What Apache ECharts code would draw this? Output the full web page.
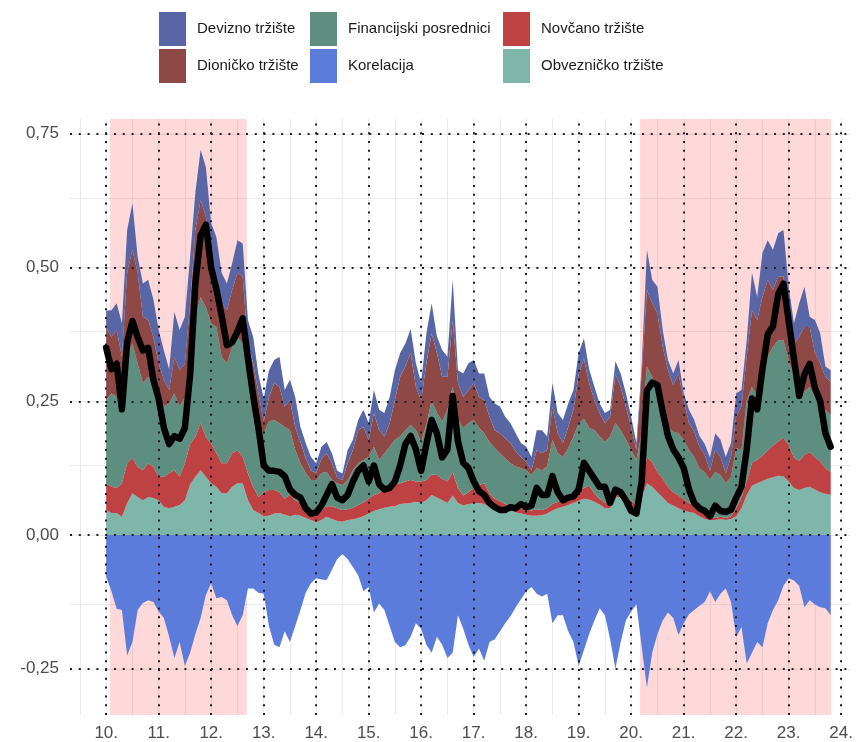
<!DOCTYPE html>
<html lang="hr">
<head>
<meta charset="UTF-8">
<title>Indeks sistemskog stresa</title>
<script src="https://cdn.jsdelivr.net/npm/echarts@6/dist/echarts.min.js"></script>
<style>
    html, body { margin: 0; padding: 0; background: #fff; }
    #main { width: 856px; height: 742px; }
</style>
</head>
<body>
<div id="main"></div>
<script>
// vremenska os: godine (10. = 2010.), korak 0,1 godine
var start = 10, step = 0.1, n = 139;
var t = [];
for (var i = 0; i < n; i++) t.push(Math.round((start + i * step) * 10) / 10);

// doprinosi (debljina sloja), odozdo prema gore
var obveznicko = [
    .047,.041,.041,.034,.060,.078,.071,.065,.071,.069,
    .065,.053,.050,.053,.056,.065,.095,.109,.121,.109,
    .097,.090,.078,.078,.090,.097,.097,.065,.047,.041,
    .035,.036,.040,.041,.038,.035,.038,.036,.032,.028,
    .024,.028,.034,.030,.026,.025,.028,.029,.032,.035,
    .040,.045,.048,.051,.053,.054,.058,.059,.060,.062,
    .060,.065,.075,.070,.065,.060,.074,.060,.055,.058,
    .059,.060,.058,.053,.051,.050,.049,.047,.042,.040,
    .038,.036,.036,.037,.040,.046,.050,.053,.056,.060,
    .064,.068,.066,.062,.057,.050,.050,.072,.070,.062,
    .052,.045,.070,.097,.090,.080,.070,.060,.055,.050,
    .046,.043,.041,.035,.030,.028,.028,.030,.028,.030,
    .035,.050,.075,.092,.097,.101,.105,.108,.111,.110,
    .100,.088,.084,.088,.090,.085,.080,.077,.075
];
var novcano = [
    .050,.049,.047,.063,.074,.066,.056,.056,.063,.058,
    .044,.056,.065,.068,.053,.069,.075,.074,.088,.074,
    .074,.063,.056,.056,.063,.062,.049,.050,.043,.030,
    .045,.048,.044,.039,.030,.041,.027,.023,.018,.017,
    .017,.019,.020,.024,.024,.022,.020,.022,.024,.026,
    .028,.030,.030,.035,.037,.041,.039,.041,.043,.038,
    .040,.038,.038,.042,.040,.040,.044,.028,.019,.022,
    .029,.033,.039,.025,.017,.013,.009,.007,.010,.010,
    .010,.010,.012,.010,.010,.012,.012,.013,.014,.015,
    .018,.020,.026,.016,.011,.010,.010,.014,.014,.013,
    .012,.010,.015,.049,.046,.038,.035,.030,.025,.024,
    .021,.017,.014,.012,.010,.006,.004,.004,.004,.005,
    .015,.020,.025,.043,.043,.047,.053,.059,.064,.072,
    .068,.057,.054,.062,.065,.060,.058,.048,.043
];
var financijski = [
    .155,.175,.170,.161,.199,.214,.193,.163,.162,.150,
    .156,.131,.131,.144,.131,.124,.188,.225,.236,.243,
    .225,.236,.199,.187,.198,.211,.212,.181,.156,.138,
    .110,.128,.131,.129,.134,.120,.094,.075,.066,.058,
    .062,.069,.064,.049,.047,.046,.055,.070,.078,.079,
    .078,.090,.062,.067,.075,.083,.087,.096,.103,.096,
    .074,.103,.139,.116,.107,.134,.159,.127,.126,.129,
    .127,.107,.093,.096,.094,.090,.085,.080,.076,.075,
    .073,.066,.077,.074,.078,.120,.091,.080,.092,.109,
    .126,.130,.108,.118,.116,.114,.124,.123,.112,.103,
    .095,.085,.105,.169,.160,.147,.129,.112,.113,.116,
    .111,.099,.091,.078,.077,.070,.086,.078,.065,.074,
    .112,.089,.152,.142,.118,.154,.175,.185,.189,.182,
    .159,.151,.133,.118,.122,.113,.108,.109,.106
];
var dionicko = [
    .137,.105,.125,.075,.157,.175,.170,.124,.106,.093,
    .056,.050,.025,.068,.068,.062,.075,.162,.181,.169,
    .124,.088,.100,.099,.107,.120,.125,.062,.074,.056,
    .022,.046,.069,.068,.038,.056,.043,.040,.027,.018,
    .013,.027,.035,.031,.010,.010,.031,.038,.062,.062,
    .032,.063,.056,.031,.044,.074,.112,.119,.134,.081,
    .078,.115,.125,.112,.084,.062,.125,.069,.058,.062,
    .069,.058,.062,.047,.034,.037,.038,.038,.028,.021,
    .016,.009,.034,.032,.031,.062,.037,.026,.040,.050,
    .092,.112,.083,.056,.044,.035,.037,.091,.081,.062,
    .043,.019,.112,.143,.137,.149,.118,.106,.087,.112,
    .074,.050,.047,.040,.033,.016,.041,.034,.018,.037,
    .059,.081,.081,.143,.144,.143,.144,.106,.119,.119,
    .075,.062,.100,.121,.112,.082,.075,.062,.063
];
var devizno = [
    .030,.050,.050,.063,.080,.087,.030,.062,.075,.070,
    .062,.055,.039,.084,.075,.088,.087,.070,.094,.093,
    .063,.080,.057,.050,.050,.061,.062,.044,.050,.035,
    .043,.050,.043,.056,.031,.038,.056,.028,.029,.025,
    .018,.022,.021,.019,.013,.012,.025,.019,.019,.032,
    .031,.043,.038,.044,.049,.056,.044,.043,.045,.044,
    .032,.056,.056,.031,.050,.037,.075,.024,.044,.050,
    .043,.044,.050,.037,.050,.050,.040,.037,.034,.026,
    .028,.025,.037,.043,.025,.044,.038,.043,.044,.037,
    .040,.038,.027,.025,.018,.019,.013,.025,.025,.025,
    .019,.013,.013,.075,.044,.050,.031,.019,.022,.025,
    .013,.025,.022,.020,.020,.025,.031,.032,.031,.026,
    .044,.031,.031,.070,.043,.082,.074,.075,.081,.087,
    .062,.038,.062,.075,.019,.062,.056,.019,.021
];
var korelacija = [
    -.078,-.105,-.138,-.140,-.225,-.200,-.140,-.127,-.122,-.125,
    -.143,-.155,-.190,-.230,-.200,-.245,-.220,-.185,-.155,-.112,
    -.090,-.118,-.116,-.122,-.150,-.170,-.150,-.100,-.100,-.108,
    -.110,-.170,-.205,-.210,-.180,-.200,-.170,-.140,-.108,-.090,
    -.081,-.083,-.084,-.065,-.045,-.036,-.045,-.060,-.075,-.105,
    -.097,-.145,-.128,-.140,-.170,-.200,-.210,-.206,-.190,-.165,
    -.175,-.205,-.220,-.190,-.205,-.230,-.220,-.150,-.175,-.205,
    -.228,-.212,-.235,-.200,-.195,-.180,-.165,-.152,-.135,-.120,
    -.105,-.097,-.110,-.115,-.110,-.165,-.150,-.150,-.180,-.200,
    -.245,-.215,-.185,-.160,-.137,-.150,-.195,-.250,-.200,-.160,
    -.143,-.130,-.209,-.285,-.220,-.185,-.160,-.145,-.155,-.187,
    -.165,-.148,-.140,-.132,-.125,-.105,-.125,-.110,-.100,-.125,
    -.190,-.172,-.240,-.220,-.200,-.210,-.165,-.140,-.122,-.095,
    -.081,-.085,-.095,-.135,-.122,-.130,-.135,-.137,-.150
];
// ukupni indeks (crna linija)
var indeks = [
    .35,.31,.32,.235,.36,.40,.37,.345,.35,.29,
    .255,.20,.17,.185,.18,.20,.30,.47,.56,.58,
    .50,.46,.41,.355,.36,.38,.405,.33,.26,.20,
    .13,.12,.12,.118,.11,.085,.075,.07,.05,.04,
    .042,.055,.075,.095,.07,.065,.075,.10,.12,.13,
    .10,.13,.095,.085,.088,.10,.13,.17,.185,.16,
    .12,.17,.215,.19,.145,.16,.26,.175,.135,.125,
    .10,.082,.075,.06,.052,.047,.047,.052,.05,.058,
    .052,.055,.088,.075,.075,.11,.08,.065,.07,.072,
    .085,.135,.12,.105,.09,.09,.06,.085,.08,.065,
    .045,.04,.10,.27,.285,.28,.23,.185,.16,.145,
    .125,.085,.06,.05,.045,.035,.055,.045,.043,.047,
    .07,.09,.16,.255,.235,.31,.375,.39,.45,.47,
    .40,.33,.26,.30,.32,.275,.25,.19,.165
];

// razdoblja povišenog stresa (ružičasto)
var razdoblja = [[10.07, 12.68], [20.17, 23.81]];
var godine = [10, 11, 12, 13, 14, 15, 16, 17, 18, 19, 20, 21, 22, 23, 24];
var yOznake = [-0.25, 0, 0.25, 0.5, 0.75];

var xMin = 9.3105, xMax = 24.168;

// decimalna godina -> vremenska oznaka (ms); vremenska os sprjecava zbrajanje po x kod slaganja
function ts(y) {
    var g = Math.floor(y);
    var a = Date.UTC(2000 + g, 0, 1), b = Date.UTC(2001 + g, 0, 1);
    return a + (y - g) * (b - a);
}

function pairs(arr) {
    return arr.map(function (v, i) { return [ts(t[i]), v]; });
}

var font = "'Liberation Sans', Arial, sans-serif";

// svijetla mreza
var svijetle = [];
for (var x = 9.5; x <= 24; x += 0.5) svijetle.push({ xAxis: ts(x) });
for (var y = -0.25; y <= 0.75; y += 0.125) svijetle.push({ yAxis: y });

// tockaste linije
var tockaste = [];
godine.forEach(function (g) { tockaste.push({ xAxis: ts(g) }); });
yOznake.forEach(function (v) { tockaste.push({ yAxis: v }); });

function sloj(name, color, arr) {
    return {
        name: name,
        type: 'line',
        stack: 'ukupno',
        data: pairs(arr),
        showSymbol: false,
        symbol: 'none',
        z: 2,
        itemStyle: { color: color },
        lineStyle: { width: 0 },
        areaStyle: { color: color, opacity: 1 },
        silent: true
    };
}

var myChart = echarts.init(document.getElementById('main'));

var legendBase = {
    orient: 'vertical',
    top: 12,
    padding: 0,
    itemGap: 3,
    itemWidth: 27,
    itemHeight: 34,
    icon: 'rect',
    selectedMode: false,
    itemStyle: { borderWidth: 0 },
    textStyle: { fontSize: 15, color: '#1a1a1a', fontFamily: font, padding: [0, 0, 0, 6] }
};

myChart.setOption({
    animation: false,
    backgroundColor: '#fff',
    textStyle: { fontFamily: font },
    legend: [
        Object.assign({}, legendBase, { left: 159, data: ['Devizno tržište', 'Dioničko tržište'] }),
        Object.assign({}, legendBase, { left: 310, data: ['Financijski posrednici', 'Korelacija'] }),
        Object.assign({}, legendBase, { left: 503, data: ['Novčano tržište', 'Obvezničko tržište'] })
    ],
    grid: {
        left: 70, right: 6, top: 119, bottom: 27,
        containLabel: false,
        outerBoundsMode: 'none'
    },
    xAxis: [
        {
            type: 'time',
            min: ts(xMin),
            max: ts(xMax),
            show: false,
            position: 'bottom'
        },
        {
            // samo za oznake godina
            type: 'value',
            min: xMin,
            max: xMax,
            position: 'bottom',
            axisLine: { show: false },
            axisTick: { show: false },
            splitLine: { show: false },
            axisLabel: {
                customValues: godine,
                formatter: function (v) { return v + '.'; },
                margin: 10,
                fontSize: 17,
                color: '#4d4d4d',
                fontFamily: font
            }
        }
    ],
    yAxis: {
        type: 'value',
        min: -0.3364,
        max: 0.7776,
        axisLine: { show: false },
        axisTick: { show: false },
        splitLine: { show: false },
        axisLabel: {
            customValues: yOznake,
            formatter: function (v) { return v.toFixed(2).replace('.', ','); },
            margin: 11,
            fontSize: 17,
            color: '#4d4d4d',
            fontFamily: font
        }
    },
    series: [
        {
            name: 'mreza',
            type: 'line',
            data: [],
            silent: true,
            markLine: {
                z: 0,
                silent: true,
                symbol: ['none', 'none'],
                label: { show: false },
                lineStyle: { color: '#ebebeb', width: 1.1, type: 'solid' },
                emphasis: { disabled: true },
                data: svijetle
            }
        },
        {
            name: 'razdoblja',
            type: 'line',
            data: [],
            silent: true,
            markArea: {
                z: 1,
                silent: true,
                itemStyle: { color: 'rgba(255, 0, 0, 0.15)' },
                emphasis: { disabled: true },
                data: razdoblja.map(function (r) { return [{ xAxis: ts(r[0]) }, { xAxis: ts(r[1]) }]; })
            }
        },
        sloj('Obvezničko tržište', '#7EB6AA', obveznicko),
        sloj('Novčano tržište', '#BE4244', novcano),
        sloj('Financijski posrednici', '#5E8E80', financijski),
        sloj('Dioničko tržište', '#8E4947', dionicko),
        sloj('Devizno tržište', '#5866A5', devizno),
        {
            name: 'Korelacija',
            type: 'line',
            data: pairs(korelacija),
            showSymbol: false,
            symbol: 'none',
            z: 2,
            itemStyle: { color: '#5C7CDB' },
            lineStyle: { width: 0 },
            areaStyle: { color: '#5C7CDB', opacity: 1 },
            silent: true
        },
        {
            name: 'tockaste',
            type: 'line',
            data: [],
            silent: true,
            markLine: {
                z: 3,
                silent: true,
                symbol: ['none', 'none'],
                label: { show: false },
                lineStyle: { color: '#1f1f2a', width: 2, type: [2, 6.8] },
                emphasis: { disabled: true },
                data: tockaste
            }
        },
        {
            name: 'Indeks',
            type: 'line',
            data: pairs(indeks),
            showSymbol: false,
            symbol: 'none',
            z: 4,
            itemStyle: { color: '#000' },
            lineStyle: { color: '#000', width: 6.5, join: 'round', cap: 'round' },
            silent: true
        }
    ]
});
</script>
</body>
</html>
